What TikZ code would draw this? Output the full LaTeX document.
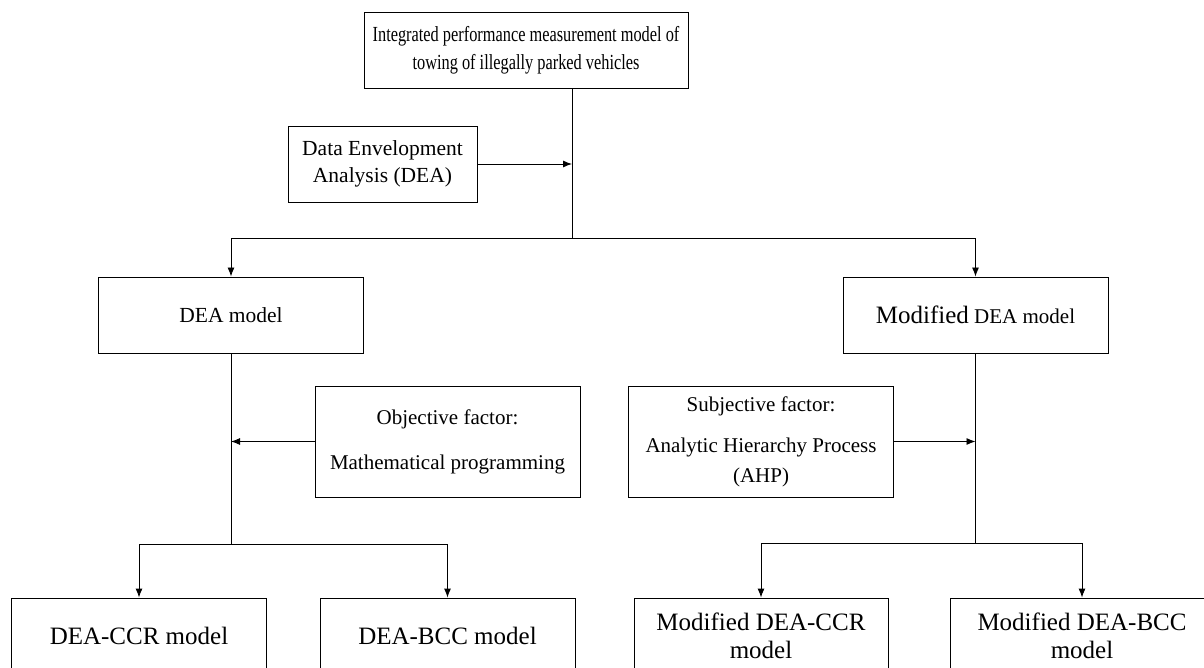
\documentclass[tikz,border=0pt]{standalone}
\usepackage{fontspec}
\setmainfont{Liberation Serif}
\newfontfamily\narrowfont[FakeStretch=0.76]{Liberation Serif}
\usepackage{tikz}
\usetikzlibrary{arrows.meta}

\tikzset{
	blk/.style={draw, line width=0.9pt, align=center, inner sep=0pt},
	lnk/.style={line width=0.9pt},
	arr/.style={lnk, -{Latex[length=9pt, width=7pt]}}
}

\begin{document}
\begin{tikzpicture}[x=1pt, y=-1pt]

		\useasboundingbox (0,0) rectangle (1204,668);
		\clip (0,0) rectangle (1204,668);

		\node[blk, minimum width=324pt, minimum height=76pt, font=\narrowfont\fontsize{21.5}{28}\selectfont] (top) at (526,50)
			{Integrated performance measurement model of\\towing of illegally parked vehicles};
		\node[blk, minimum width=189pt, minimum height=76pt, font=\fontsize{21.5}{27}\selectfont] (dea) at (382.5,164)
			{Data Envelopment\\Analysis (DEA)};

		\node[blk, minimum width=265pt, minimum height=76pt, font=\fontsize{21.5}{26}\selectfont] (deam) at (231,315) {DEA model};
		\node[blk, minimum width=265pt, minimum height=76pt, font=\fontsize{21}{26}\selectfont] (mdeam) at (975.5,315)
			{{\fontsize{25}{30}\selectfont Modified} DEA model};

		\node[blk, minimum width=265pt, minimum height=111pt, font=\fontsize{21}{30}\selectfont] (obj) at (447.5,441.5)
			{Objective factor:\\[15pt]Mathematical programming};
		\node[blk, minimum width=265pt, minimum height=111pt, font=\fontsize{21}{30}\selectfont] (subj) at (761,441.5)
			{Subjective factor:\\[11pt]Analytic Hierarchy Process\\(AHP)};

		\node[blk, minimum width=255pt, minimum height=76pt, font=\fontsize{25}{28}\selectfont] (ccr) at (139,636) {DEA-CCR model};
		\node[blk, minimum width=255pt, minimum height=76pt, font=\fontsize{25}{28}\selectfont] (bcc) at (447.5,636) {DEA-BCC model};
		\node[blk, minimum width=254pt, minimum height=76pt, font=\fontsize{25}{28}\selectfont] (mccr) at (761,636)
			{Modified DEA-CCR\\model};
		\node[blk, minimum width=264pt, minimum height=76pt, font=\fontsize{25}{28}\selectfont] (mbcc) at (1082,636)
			{Modified DEA-BCC\\model};

		\coordinate (j1) at (572,238);
		\coordinate (j2) at (231,544);
		\coordinate (j3) at (975.5,543);

		\draw[lnk] (j1 |- top.south) -- (j1);
		\draw[arr] (dea.east) -- (dea.east -| j1);
		\draw[arr] (j1) -| (deam.north);
		\draw[arr] (j1) -| (mdeam.north);

		\draw[lnk] (deam.south) -- (j2);
		\draw[arr] (obj.west) -- (obj.west -| deam.south);
		\draw[arr] (j2) -| (ccr.north);
		\draw[arr] (j2) -| (bcc.north);

		\draw[lnk] (mdeam.south) -- (j3);
		\draw[arr] (subj.east) -- (subj.east -| mdeam.south);
		\draw[arr] (j3) -| (mccr.north);
		\draw[arr] (j3) -| (mbcc.north);

	\end{tikzpicture}
\end{document}
